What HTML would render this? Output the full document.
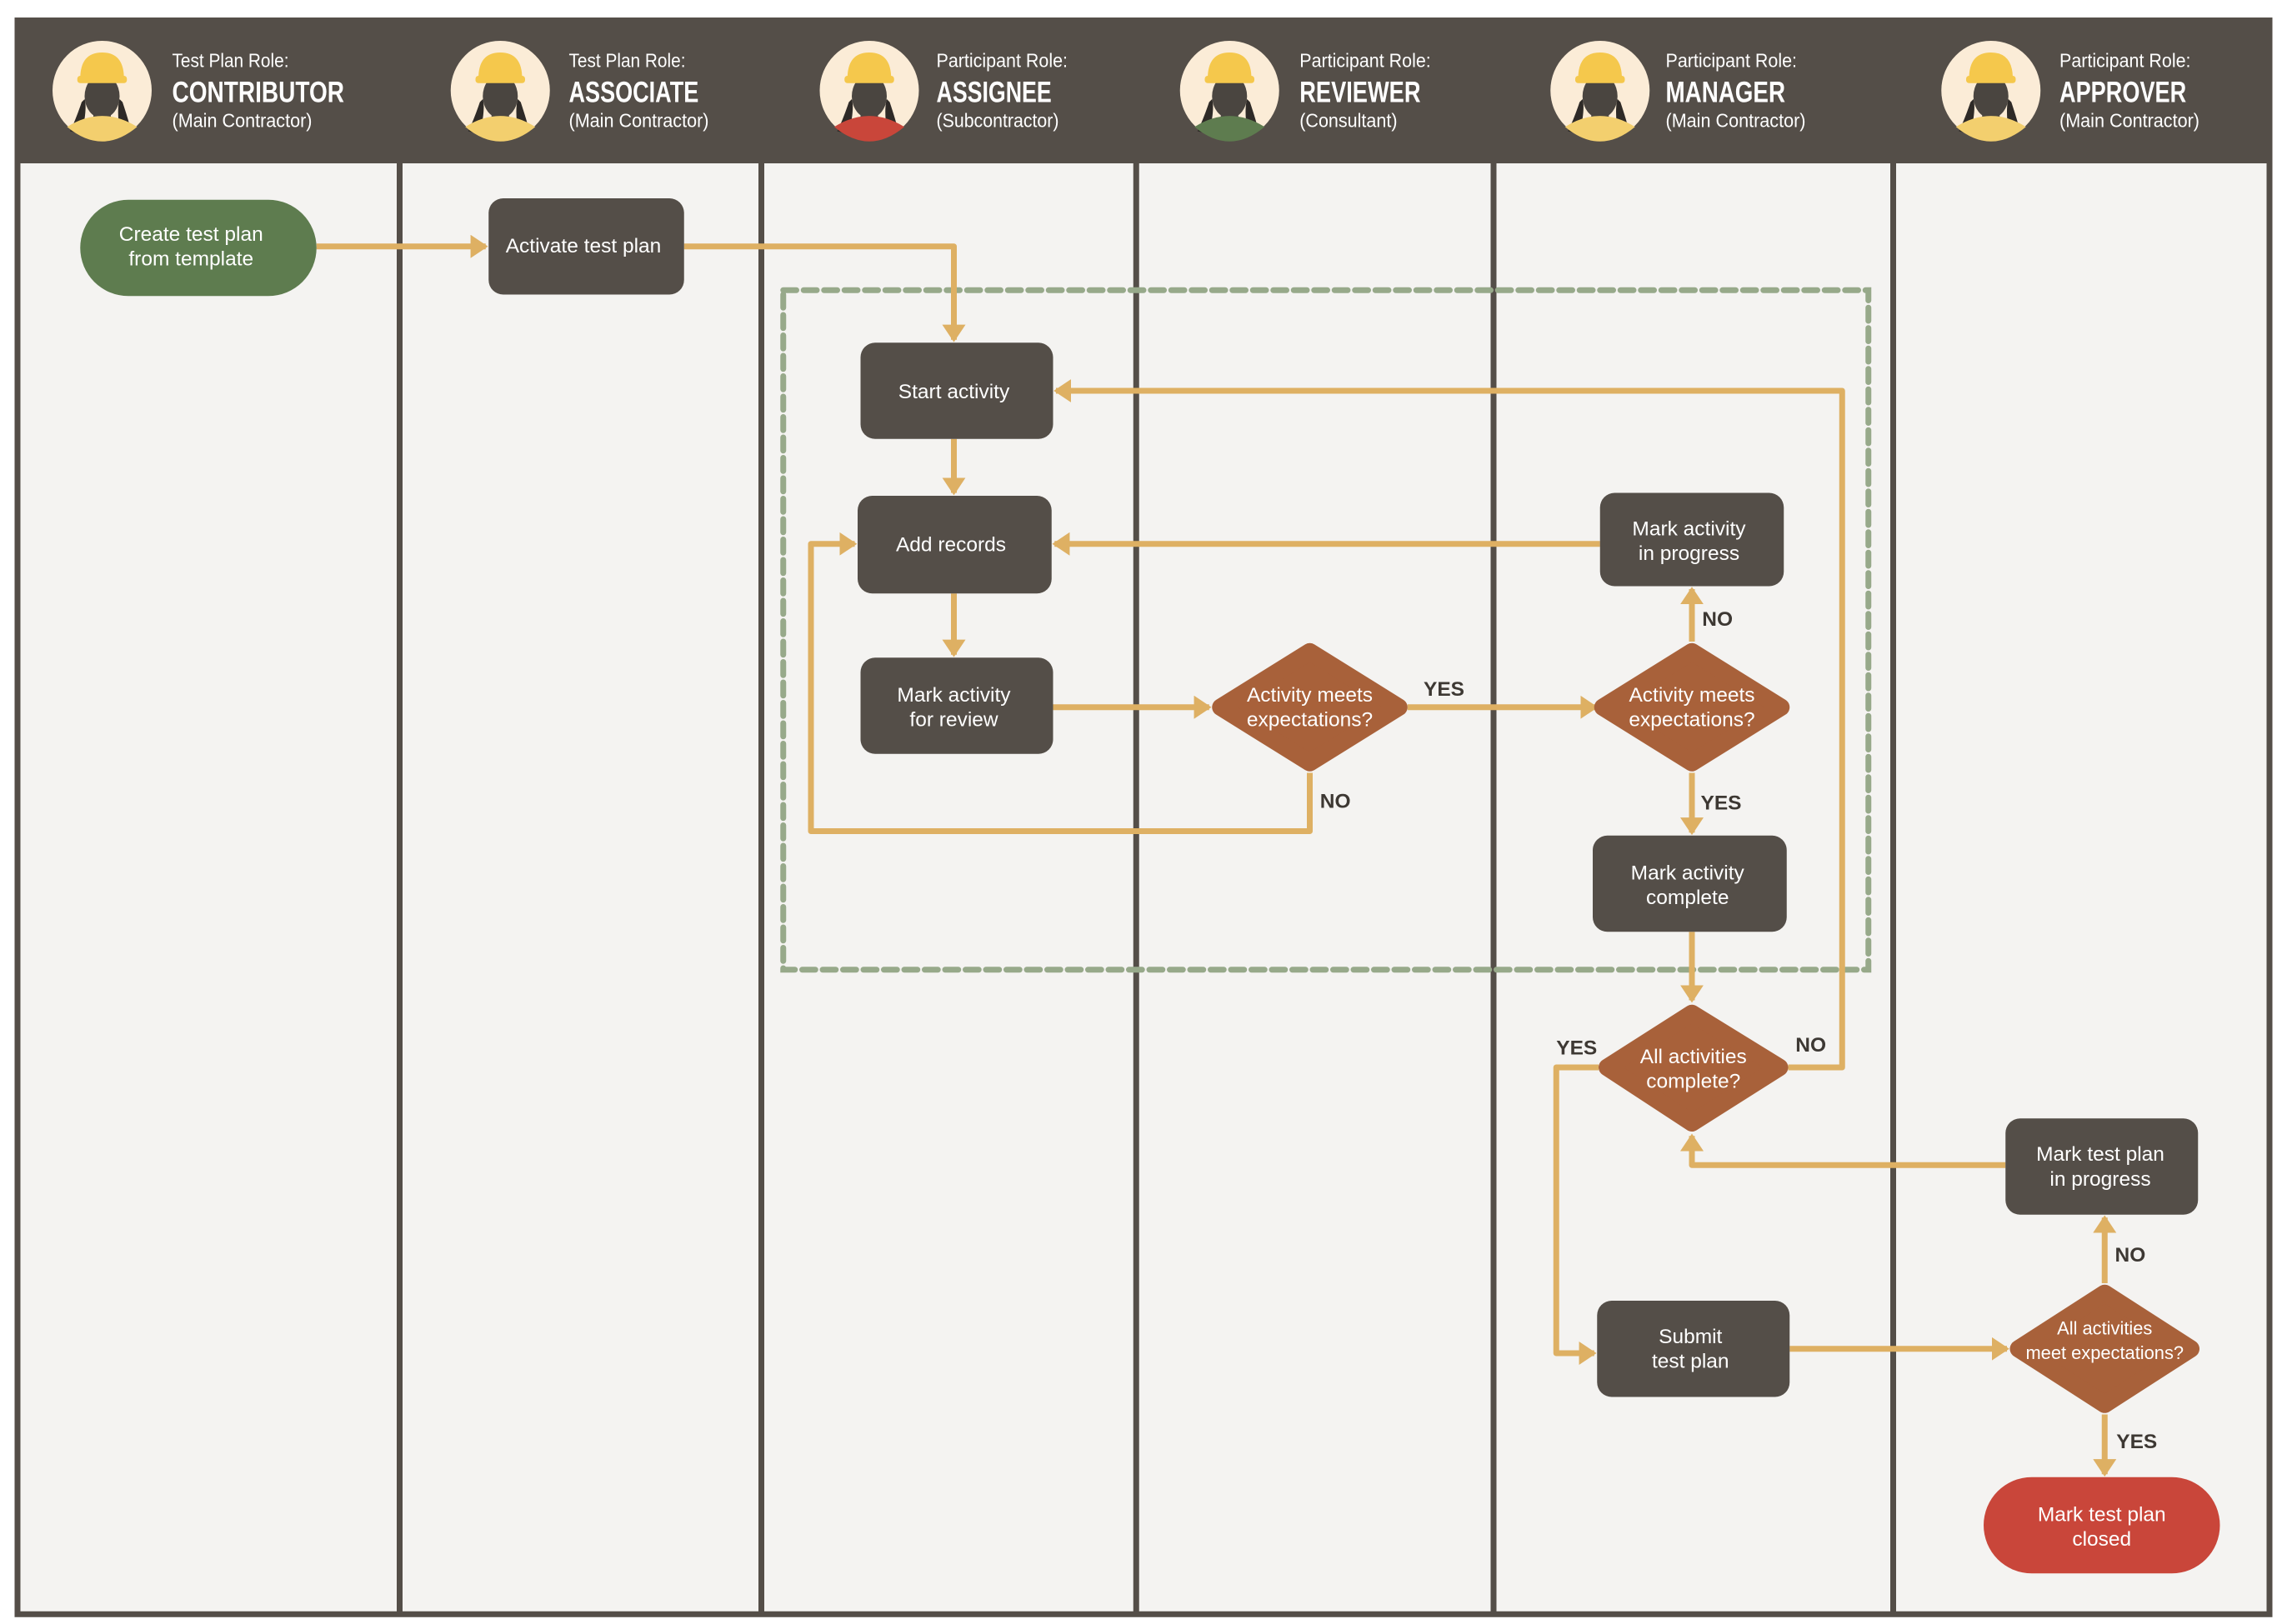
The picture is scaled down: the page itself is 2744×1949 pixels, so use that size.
<!DOCTYPE html>
<html><head><meta charset="utf-8"><style>
html,body{margin:0;padding:0;background:#fff;}
svg{display:block;}
text{font-family:"Liberation Sans Narrow","Liberation Sans",sans-serif;}
</style></head><body>
<svg width="2744" height="1949" viewBox="0 0 1568 1113.7" xmlns="http://www.w3.org/2000/svg">
<defs>
<marker id="a" markerWidth="4" markerHeight="4" refX="2.6" refY="2" orient="auto" markerUnits="strokeWidth">
<path d="M0,0 L3,2 L0,4 Z" fill="#deb063"/>
</marker>
<g id="av">
<ellipse cx="0" cy="0" rx="34" ry="34" fill="#fbecd7"/>
<path d="M-14,8 Q-18,20 -22,28 L-14,30 Q-10,12 -12,6 Z" fill="#2e2a27"/>
<path d="M14,8 Q18,20 20,28 L12,28 Q10,12 12,6 Z" fill="#2e2a27"/>
<rect x="-6" y="12" width="12" height="16" fill="#4a4540"/>
<ellipse cx="0" cy="4" rx="12" ry="15" fill="#4a4540"/>
<path d="M-15,-8 Q-15,-26 0,-26 Q15,-26 15,-8 Z" fill="#f5c84c"/>
<rect x="-17" y="-10" width="34" height="5" rx="2" fill="#f5c84c"/>
</g>
</defs>
<rect x="0" y="0" width="1568" height="1114" fill="#fff"/>
<rect x="12" y="110" width="1544" height="997" fill="#f4f3f1" stroke="#544e48" stroke-width="4"/>
<rect x="10" y="12" width="1548" height="100" fill="#544e48"/>
<g stroke="#544e48" stroke-width="4">
<line x1="274" y1="110" x2="274" y2="1107"/>
<line x1="522" y1="110" x2="522" y2="1107"/>
<line x1="779" y1="110" x2="779" y2="1107"/>
<line x1="1024" y1="110" x2="1024" y2="1107"/>
<line x1="1298" y1="110" x2="1298" y2="1107"/>
</g>
<g transform="translate(70,62)"><use href="#av"/><path d="M-24,25 Q0,10 24,25 Q12,35 0,35 Q-12,35 -24,25Z" fill="#f3cf6e"/></g>
<g transform="translate(343,62)"><use href="#av"/><path d="M-24,25 Q0,10 24,25 Q12,35 0,35 Q-12,35 -24,25Z" fill="#f3cf6e"/></g>
<g transform="translate(596,62)"><use href="#av"/><path d="M-24,25 Q0,10 24,25 Q12,35 0,35 Q-12,35 -24,25Z" fill="#c9463a"/></g>
<g transform="translate(843,62)"><use href="#av"/><path d="M-24,25 Q0,10 24,25 Q12,35 0,35 Q-12,35 -24,25Z" fill="#5e7c4f"/></g>
<g transform="translate(1097,62)"><use href="#av"/><path d="M-24,25 Q0,10 24,25 Q12,35 0,35 Q-12,35 -24,25Z" fill="#f3cf6e"/></g>
<g transform="translate(1365,62)"><use href="#av"/><path d="M-24,25 Q0,10 24,25 Q12,35 0,35 Q-12,35 -24,25Z" fill="#f3cf6e"/></g>
<g fill="#fff">
<g font-size="13" lengthAdjust="spacingAndGlyphs">
<text x="118" y="46" textLength="80" lengthAdjust="spacingAndGlyphs">Test Plan Role:</text>
<text x="390" y="46" textLength="80" lengthAdjust="spacingAndGlyphs">Test Plan Role:</text>
<text x="642" y="46" textLength="90" lengthAdjust="spacingAndGlyphs">Participant Role:</text>
<text x="891" y="46" textLength="90" lengthAdjust="spacingAndGlyphs">Participant Role:</text>
<text x="1142" y="46" textLength="90" lengthAdjust="spacingAndGlyphs">Participant Role:</text>
<text x="1412" y="46" textLength="90" lengthAdjust="spacingAndGlyphs">Participant Role:</text>
</g>
<g font-size="20" font-weight="bold">
<text x="118" y="70" textLength="118" lengthAdjust="spacingAndGlyphs">CONTRIBUTOR</text>
<text x="390" y="70" textLength="89" lengthAdjust="spacingAndGlyphs">ASSOCIATE</text>
<text x="642" y="70" textLength="79" lengthAdjust="spacingAndGlyphs">ASSIGNEE</text>
<text x="891" y="70" textLength="83" lengthAdjust="spacingAndGlyphs">REVIEWER</text>
<text x="1142" y="70" textLength="82" lengthAdjust="spacingAndGlyphs">MANAGER</text>
<text x="1412" y="70" textLength="87" lengthAdjust="spacingAndGlyphs">APPROVER</text>
</g>
<g font-size="13">
<text x="118" y="87" textLength="96" lengthAdjust="spacingAndGlyphs">(Main Contractor)</text>
<text x="390" y="87" textLength="96" lengthAdjust="spacingAndGlyphs">(Main Contractor)</text>
<text x="642" y="87" textLength="84" lengthAdjust="spacingAndGlyphs">(Subcontractor)</text>
<text x="891" y="87" textLength="67" lengthAdjust="spacingAndGlyphs">(Consultant)</text>
<text x="1142" y="87" textLength="96" lengthAdjust="spacingAndGlyphs">(Main Contractor)</text>
<text x="1412" y="87" textLength="96" lengthAdjust="spacingAndGlyphs">(Main Contractor)</text>
</g>
</g>
<rect x="537" y="199" width="744" height="466" fill="none" stroke="#97a98a" stroke-width="4" stroke-dasharray="9,5" stroke-linecap="round"/>
<g fill="none" stroke="#deb063" stroke-width="4" stroke-linejoin="round">
<path d="M217,169 L333,169" marker-end="url(#a)"/>
<path d="M469,169 L654,169 L654,233" marker-end="url(#a)"/>
<path d="M1226,732 L1263,732 L1263,268 L724,268" marker-end="url(#a)"/>
<path d="M654,301 L654,338" marker-end="url(#a)"/>
<path d="M1097,373 L723,373" marker-end="url(#a)"/>
<path d="M654,407 L654,449" marker-end="url(#a)"/>
<path d="M722,485 L829,485" marker-end="url(#a)"/>
<path d="M965,485 L1094,485" marker-end="url(#a)"/>
<path d="M898,530 L898,570 L556,570 L556,373 L586,373" marker-end="url(#a)"/>
<path d="M1160,440 L1160,404" marker-end="url(#a)"/>
<path d="M1160,530 L1160,571" marker-end="url(#a)"/>
<path d="M1160,639 L1160,686" marker-end="url(#a)"/>
<path d="M1096,732 L1067,732 L1067,928 L1093,928" marker-end="url(#a)"/>
<path d="M1375,799 L1160,799 L1160,779" marker-end="url(#a)"/>
<path d="M1227,925 L1376,925" marker-end="url(#a)"/>
<path d="M1443,880 L1443,835" marker-end="url(#a)"/>
<path d="M1443,970 L1443,1011" marker-end="url(#a)"/>
</g>
<rect x="55" y="137" width="162" height="66" rx="33" fill="#5e7c4f"/>
<g fill="#544e48">
<rect x="335" y="136" width="134" height="66" rx="10"/>
<rect x="590" y="235" width="132" height="66" rx="10"/>
<rect x="588" y="340" width="133" height="67" rx="10"/>
<rect x="590" y="451" width="132" height="66" rx="10"/>
<rect x="1097" y="338" width="126" height="64" rx="10"/>
<rect x="1092" y="573" width="133" height="66" rx="10"/>
<rect x="1375" y="767" width="132" height="66" rx="10"/>
<rect x="1095" y="892" width="132" height="66" rx="10"/>
</g>
<rect x="1360" y="1013" width="162" height="66" rx="33" fill="#c9463a"/>
<g fill="#a8613a" stroke="#a8613a" stroke-width="12" stroke-linejoin="round">
<path d="M898,447 L959,485 L898,523 L837,485 Z"/>
<path d="M1160,447 L1221,485 L1160,523 L1099,485 Z"/>
<path d="M1160,695 L1220,732 L1160,770 L1102,732 Z"/>
<path d="M1443,887 L1502,925 L1443,963 L1384,925 Z"/>
</g>
<g fill="#fff" font-size="14" text-anchor="middle">
<text x="131" y="165">Create test plan</text><text x="131" y="182">from template</text>
<text x="400" y="173">Activate test plan</text>
<text x="654" y="273">Start activity</text>
<text x="652" y="378">Add records</text>
<text x="654" y="481">Mark activity</text><text x="654" y="498">for review</text>
<text x="898" y="481">Activity meets</text><text x="898" y="498">expectations?</text>
<text x="1160" y="481">Activity meets</text><text x="1160" y="498">expectations?</text>
<text x="1158" y="367">Mark activity</text><text x="1158" y="384">in progress</text>
<text x="1157" y="603">Mark activity</text><text x="1157" y="620">complete</text>
<text x="1161" y="729">All activities</text><text x="1161" y="746">complete?</text>
<text x="1440" y="796">Mark test plan</text><text x="1440" y="813">in progress</text>
<text x="1159" y="921">Submit</text><text x="1159" y="938">test plan</text>
<text x="1443" y="915" font-size="12.5">All activities</text><text x="1443" y="932" font-size="12.5">meet expectations?</text>
<text x="1441" y="1043">Mark test plan</text><text x="1441" y="1060">closed</text>
</g>
<g fill="#3d3833" font-size="14" font-weight="bold">
<text x="976" y="477">YES</text>
<text x="905" y="554">NO</text>
<text x="1167" y="429">NO</text>
<text x="1166" y="555">YES</text>
<text x="1067" y="723">YES</text>
<text x="1231" y="721">NO</text>
<text x="1450" y="865">NO</text>
<text x="1451" y="993">YES</text>
</g>
</svg>
</body></html>
